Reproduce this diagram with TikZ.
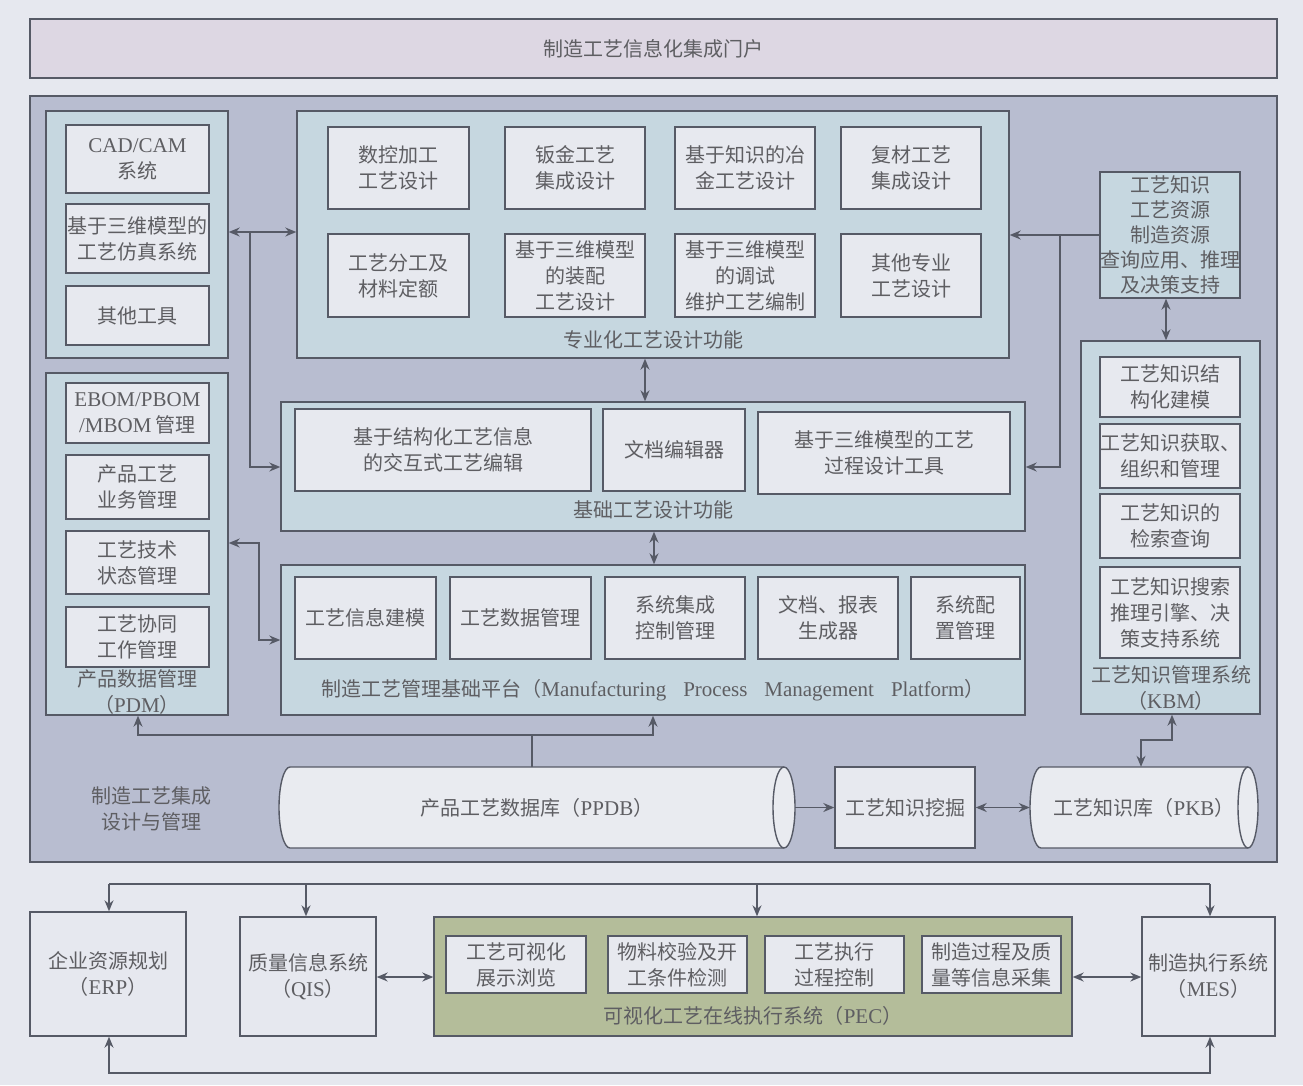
\documentclass[tikz,border=0pt]{standalone}
\usepackage{fontspec}
\setmainfont{Liberation Serif}
\newfontfamily\cjk{Noto Sans CJK SC}
\usetikzlibrary{arrows.meta}
\definecolor{bgc}{HTML}{E6E8EF}
\definecolor{portalc}{HTML}{DDD7E3}
\definecolor{mainc}{HTML}{B8BDD0}
\definecolor{groupc}{HTML}{C6D7E0}
\definecolor{innerc}{HTML}{E7E9EF}
\definecolor{pecc}{HTML}{B4BD9A}
\definecolor{cylc}{HTML}{E9EBF0}
\definecolor{linec}{HTML}{565A66}
\definecolor{txtc}{HTML}{5E5E62}
\newcommand\enx[1]{{\rmfamily\fontsize{21}{26}\selectfont #1}}
\newcommand\mybox[7]{%
  \node[#6, minimum width={(#4-#2)*1pt}, minimum height={(#5-#3)*1pt}] (#1) at ({(#2+#4)/2},{(#3+#5)/2}) {#7};}
\tikzset{
  txt/.style={text=txtc, font=\cjk\fontsize{20}{26}\selectfont, align=center, inner sep=0pt},
  ibox/.style={txt, draw=linec, line width=1.4pt, fill=innerc, inner sep=0pt},
  gbox/.style={draw=linec, line width=1.4pt, fill=groupc, inner sep=0pt},
  ghost/.style={txt, draw=none},
  ln/.style={draw=linec, line width=1.4pt},
  arr/.style={ln, -{Stealth[length=11pt,width=9pt]}},
  dbl/.style={ln, {Stealth[length=11pt,width=9pt]}-{Stealth[length=11pt,width=9pt]}},
}
\begin{document}
\begin{tikzpicture}[x=1pt,y=-1pt]
\useasboundingbox (0,0) rectangle (1303,1085);
\fill[bgc] (0,0) rectangle (1303,1085);

% portal and main area
\mybox{portal}{30}{19}{1277}{78}{ibox, fill=portalc}{制造工艺信息化集成门户}
\mybox{main}{30}{96}{1277}{862}{gbox, fill=mainc}{}
\node[txt] (mainlbl) at (151,809) {制造工艺集成\\设计与管理};

% left top group
\mybox{ltg}{46}{111}{228}{358}{gbox}{}
\mybox{cad}{66}{125}{209}{193}{ibox}{\enx{CAD/CAM}\\系统}
\mybox{sim}{66}{204}{209}{273}{ibox}{基于三维模型的\\工艺仿真系统}
\mybox{oth}{66}{286}{209}{345}{ibox}{其他工具}

% specialized design functions
\mybox{spec}{297}{111}{1009}{358}{gbox}{}
\mybox{s1}{328}{127}{469}{209}{ibox}{数控加工\\工艺设计}
\mybox{s2}{505}{127}{645}{209}{ibox}{钣金工艺\\集成设计}
\mybox{s3}{675}{127}{815}{209}{ibox}{基于知识的冶\\金工艺设计}
\mybox{s4}{841}{127}{981}{209}{ibox}{复材工艺\\集成设计}
\mybox{s5}{328}{234}{469}{317}{ibox}{工艺分工及\\材料定额}
\mybox{s6}{505}{234}{645}{317}{ibox}{基于三维模型\\的装配\\工艺设计}
\mybox{s7}{675}{234}{815}{317}{ibox}{基于三维模型\\的调试\\维护工艺编制}
\mybox{s8}{841}{234}{981}{317}{ibox}{其他专业\\工艺设计}
\node[txt] (speclbl) at (653,340) {专业化工艺设计功能};

% basic design functions
\mybox{base}{281}{402}{1025}{531}{gbox}{}
\mybox{b1}{295}{409}{591}{491}{ibox}{基于结构化工艺信息\\的交互式工艺编辑}
\mybox{b2}{603}{409}{745}{491}{ibox}{文档编辑器}
\mybox{b3}{758}{412}{1010}{494}{ibox}{基于三维模型的工艺\\过程设计工具}
\node[txt] (baselbl) at (653,510) {基础工艺设计功能};

% platform
\mybox{plat}{281}{565}{1025}{715}{gbox}{}
\mybox{p1}{295}{577}{436}{659}{ibox}{工艺信息建模}
\mybox{p2}{450}{577}{591}{659}{ibox}{工艺数据管理}
\mybox{p3}{605}{577}{745}{659}{ibox}{系统集成\\控制管理}
\mybox{p4}{758}{577}{898}{659}{ibox}{文档、报表\\生成器}
\mybox{p5}{911}{577}{1020}{659}{ibox}{系统配\\置管理}
\node[txt] (platlbl) at (653,690) {制造工艺管理基础平台（\enx{Manufacturing\hspace{17pt}Process\hspace{17pt}Management\hspace{17pt}Platform}）};

% PDM
\mybox{pdm}{46}{373}{228}{715}{gbox}{}
\mybox{d1}{66}{383}{209}{443}{ibox}{\enx{EBOM/PBOM}\\\enx{/MBOM} 管理}
\mybox{d2}{66}{455}{209}{519}{ibox}{产品工艺\\业务管理}
\mybox{d3}{66}{531}{209}{594}{ibox}{工艺技术\\状态管理}
\mybox{d4}{66}{607}{209}{667}{ibox}{工艺协同\\工作管理}
\node[txt] (pdmlbl) at (137,692) {产品数据管理\\（\enx{PDM}）};

% knowledge query + KBM
\mybox{query}{1100}{172}{1240}{298}{gbox, txt, draw=linec, line width=1.4pt, fill=groupc, font=\cjk\fontsize{20}{25}\selectfont}{工艺知识\\工艺资源\\制造资源\\查询应用、推理\\及决策支持}
\mybox{kbm}{1081}{341}{1260}{714}{gbox}{}
\mybox{k1}{1100}{357}{1240}{417}{ibox}{工艺知识结\\构化建模}
\mybox{k2}{1100}{424}{1240}{488}{ibox}{工艺知识获取、\\组织和管理}
\mybox{k3}{1100}{494}{1240}{558}{ibox}{工艺知识的\\检索查询}
\mybox{k4}{1100}{567}{1240}{658}{ibox}{工艺知识搜索\\推理引擎、决\\策支持系统}
\node[txt] (kbmlbl) at (1171,688) {工艺知识管理系统\\（\enx{KBM}）};

% databases
\draw[ln, fill=cylc] (290,767) -- (784,767) arc[start angle=90, end angle=-90, x radius=11pt, y radius=40.5pt]
  -- (290,848) arc[start angle=270, end angle=90, x radius=11pt, y radius=40.5pt] -- cycle;
\draw[ln] (784,767) arc[start angle=90, end angle=270, x radius=11pt, y radius=40.5pt];
\mybox{ppdb}{279}{767}{795}{848}{ghost}{产品工艺数据库（\enx{PPDB}）}
\mybox{mine}{835}{767}{975}{848}{ibox}{工艺知识挖掘}
\draw[ln, fill=cylc] (1041,767) -- (1248,767) arc[start angle=90, end angle=-90, x radius=10pt, y radius=40.5pt]
  -- (1041,848) arc[start angle=270, end angle=90, x radius=11pt, y radius=40.5pt] -- cycle;
\draw[ln] (1248,767) arc[start angle=90, end angle=270, x radius=10pt, y radius=40.5pt];
\mybox{pkb}{1030}{767}{1258}{848}{ghost}{工艺知识库（\enx{PKB}）}

% bottom systems
\mybox{erp}{30}{912}{186}{1036}{ibox, fill=bgc}{企业资源规划\\（\enx{ERP}）}
\mybox{qis}{240}{917}{376}{1036}{ibox, fill=bgc}{质量信息系统\\（\enx{QIS}）}
\mybox{pec}{434}{917}{1072}{1036}{gbox, fill=pecc}{}
\mybox{e1}{446}{936}{586}{993}{ibox}{工艺可视化\\展示浏览}
\mybox{e2}{608}{936}{747}{993}{ibox}{物料校验及开\\工条件检测}
\mybox{e3}{765}{936}{904}{993}{ibox}{工艺执行\\过程控制}
\mybox{e4}{922}{936}{1061}{993}{ibox}{制造过程及质\\量等信息采集}
\node[txt] (peclbl) at (753,1016) {可视化工艺在线执行系统（\enx{PEC}）};
\mybox{mes}{1142}{917}{1275}{1036}{ibox, fill=bgc}{制造执行系统\\（\enx{MES}）}

% connectors in main area
\coordinate (jl) at (250,232);
\draw[dbl] (ltg.east |- jl) -- (spec.west |- jl);
\draw[arr] (jl) -- (250,467) -- (base.west |- 0,467);
\draw[dbl] (pdm.east |- 0,543) -- (259,543) -- (259,640) -- (plat.west |- 0,640);
\draw[dbl] (spec.south -| 645,0) -- (base.north -| 645,0);
\draw[dbl] (base.south -| 654,0) -- (plat.north -| 654,0);
\coordinate (jr) at (1060,235);
\draw[arr] (query.west |- jr) -- (spec.east |- jr);
\draw[arr] (jr) -- (1060,467) -- (base.east |- 0,467);
\draw[dbl] (query.south -| 1166,0) -- (kbm.north -| 1166,0);
\draw[dbl] (kbm.south -| 1172,0) -- (1172,740) -- (1141,740) -- (pkb.north -| 1141,0);
\coordinate (jp) at (532,735);
\draw[arr] (ppdb.north -| jp) -- (jp) -- (138,735) -- (pdm.south -| 138,0);
\draw[arr] (jp) -- (653,735) -- (plat.south -| 653,0);
\draw[arr] (ppdb.east) -- (mine.west);
\draw[dbl] (mine.east) -- (pkb.west);

% bottom connectors
\coordinate (busL) at (109,884);
\coordinate (busR) at (1210,884);
\draw[ln] (busL) -- (busR);
\draw[arr] (busL) -- (erp.north -| busL);
\draw[arr] (306,884) -- (qis.north -| 306,0);
\draw[arr] (757,884) -- (pec.north -| 757,0);
\draw[arr] (busR) -- (mes.north -| busR);
\draw[dbl] (erp.south -| busL) -- (busL |- 0,1073) -- (busR |- 0,1073) -- (mes.south -| busR);
\draw[dbl] (qis.east |- 0,977) -- (pec.west |- 0,977);
\draw[dbl] (pec.east |- 0,977) -- (mes.west |- 0,977);
\end{tikzpicture}
\end{document}
